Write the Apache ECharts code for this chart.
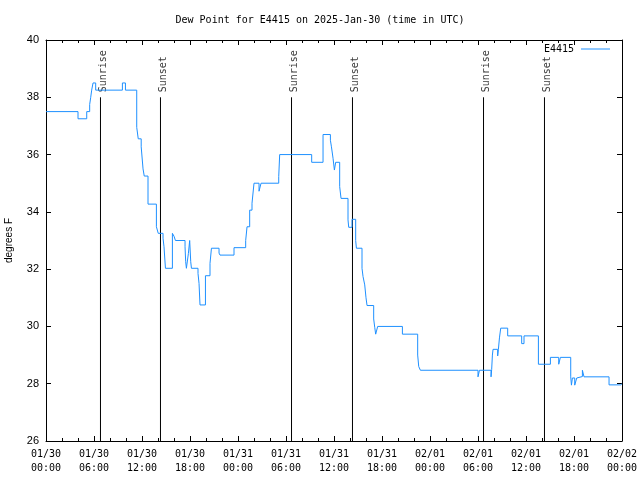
<!DOCTYPE html>
<html>
<head>
<meta charset="utf-8">
<script src="https://cdn.jsdelivr.net/npm/echarts@6/dist/echarts.min.js"></script>
<style>html,body{margin:0;padding:0;background:#fff}#c{width:640px;height:480px}</style>
</head>
<body>
<div id="c"></div>
<script>
// Hours since 2025-01-30 00:00 UTC at which the dew point changes to the given value
var hours = [0, 4.0, 5.09, 5.46, 5.59, 5.71, 5.88, 6.21, 9.55, 9.93, 11.34, 11.53, 11.9, 12.13, 12.28, 12.75, 13.8, 14.03, 14.63, 14.75, 14.93, 15.8, 16.0, 16.18, 17.38, 17.46, 17.55, 17.8, 17.96, 18.09, 18.18, 19.0, 19.13, 19.25, 19.93, 20.5, 20.68, 21.63, 21.75, 23.5, 24.96, 25.13, 25.46, 25.75, 26.0, 26.63, 26.88, 29.09, 29.21, 33.21, 34.63, 35.55, 35.68, 35.88, 36.05, 36.21, 36.71, 36.88, 37.75, 37.84, 38.25, 38.71, 38.8, 39.5, 39.63, 39.84, 40.0, 40.13, 40.96, 41.09, 41.21, 41.46, 44.55, 46.46, 46.59, 46.8, 54.0, 54.18, 55.63, 55.71, 55.8, 55.88, 56.46, 56.55, 56.68, 56.84, 57.71, 59.46, 59.75, 61.55, 63.05, 64.09, 64.3, 65.59, 65.68, 65.8, 66.09, 66.34, 66.59, 67.05, 67.25, 70.38, 71.84, 72.0];
var dewPoint = [37.5, 37.25, 37.5, 37.75, 38.0, 38.25, 38.5, 38.25, 38.5, 38.25, 36.95, 36.55, 36.27, 35.5, 35.25, 34.27, 33.48, 33.25, 33.08, 32.78, 32.03, 33.25, 33.15, 33.0, 32.78, 32.26, 32.03, 32.55, 33.0, 32.26, 32.03, 31.85, 31.5, 30.75, 31.77, 32.2, 32.73, 32.56, 32.49, 32.75, 33.0, 33.48, 34.06, 34.3, 35.0, 34.72, 35.0, 35.23, 36.0, 35.73, 36.7, 36.5, 36.27, 35.87, 35.46, 35.73, 34.88, 34.47, 33.72, 33.46, 33.74, 33.0, 32.73, 32.03, 31.74, 31.45, 31.0, 30.73, 30.26, 29.97, 29.73, 30.0, 29.73, 29.0, 28.6, 28.47, 28.24, 28.47, 28.24, 28.5, 29.0, 29.2, 28.97, 29.2, 29.6, 29.94, 29.67, 29.4, 29.67, 28.68, 28.92, 28.68, 28.92, 28.24, 27.95, 28.2, 27.95, 28.2, 28.25, 28.47, 28.24, 27.96, 28.0, 28.0];

// Sunrise / sunset markers (hours since 2025-01-30 00:00 UTC)
var eventHours = [6.81, 14.31, 30.69, 38.31, 54.69, 62.31];
var eventNames = ['Sunrise', 'Sunset', 'Sunrise', 'Sunset', 'Sunrise', 'Sunset'];
var eventTop = 38.0;

// Axis tick labels
var xTickLabels = ['01/30\n00:00', '01/30\n06:00', '01/30\n12:00', '01/30\n18:00', '01/31\n00:00', '01/31\n06:00', '01/31\n12:00', '01/31\n18:00', '02/01\n00:00', '02/01\n06:00', '02/01\n12:00', '02/01\n18:00', '02/02\n00:00'];
var yMin = 26, yMax = 40, yStep = 2;
var xMin = 0, xMax = 72, xStep = 6;

var mono = 'DejaVu Sans Mono';
var sans = 'Liberation Sans';

var lineData = hours.map(function (h, i) { return [h, dewPoint[i]]; });

var series = [{
  name: 'E4415',
  type: 'line',
  step: 'end',
  symbol: 'none',
  showSymbol: false,
  data: lineData,
  lineStyle: { color: '#1e90ff', width: 1 },
  itemStyle: { color: '#1e90ff' },
  z: 3
}];
eventHours.forEach(function (h) {
  series.push({
    type: 'line',
    symbol: 'none',
    silent: true,
    data: [[h, yMin], [h, eventTop]],
    lineStyle: { color: '#000', width: 1 },
    z: 2
  });
});
series.push({
  type: 'scatter',
  symbolSize: 0,
  silent: true,
  data: eventHours.map(function (h) { return [h, eventTop]; }),
  label: {
    show: true,
    position: 'top',
    distance: 5,
    rotate: 90,
    align: 'left',
    verticalAlign: 'middle',
    offset: [0, 3],
    fontFamily: mono,
    fontSize: 10,
    color: '#000',
    formatter: function (p) { return eventNames[p.dataIndex]; }
  }
});

var baseX = {
  type: 'value', min: xMin, max: xMax, interval: xStep,
  axisLine: { show: true, onZero: false, lineStyle: { color: '#000', width: 1 } },
  axisTick: { show: true, inside: true, length: 5, lineStyle: { color: '#000' } },
  minorTick: { show: true, splitNumber: 3, length: 3, lineStyle: { color: '#000' } },
  splitLine: { show: false }
};
var baseY = {
  type: 'value', min: yMin, max: yMax, interval: yStep,
  axisLine: { show: true, onZero: false, lineStyle: { color: '#000', width: 1 } },
  axisTick: { show: true, inside: true, length: 5, lineStyle: { color: '#000' } },
  splitLine: { show: false }
};

var chart = echarts.init(document.getElementById('c'), null, { renderer: 'canvas' });
chart.setOption({
  animation: false,
  backgroundColor: '#fff',
  title: {
    text: 'Dew Point for E4415 on 2025-Jan-30 (time in UTC)',
    left: 'center', top: 10,
    textStyle: { fontFamily: mono, fontSize: 10, fontWeight: 'normal', color: '#000' }
  },
  legend: {
    data: [{ name: 'E4415', icon: 'path://M0,0H29V1H0Z' }],
    right: 30, top: 44, padding: 0,
    align: 'right',
    itemWidth: 29, itemHeight: 1,
    textStyle: { fontFamily: mono, fontSize: 10, color: '#000', padding: [0, 2, 0, 0] }
  },
  grid: { left: 46, right: 18, top: 40, bottom: 39, containLabel: false, outerBoundsMode: 'none' },
  xAxis: [
    Object.assign({}, baseX, {
      position: 'bottom',
      axisLabel: {
        show: true, margin: 6, lineHeight: 14,
        fontFamily: mono, fontSize: 10, color: '#000',
        formatter: function (v) { return xTickLabels[Math.round((v - xMin) / xStep)]; }
      }
    }),
    Object.assign({}, baseX, { position: 'top', axisLabel: { show: false } })
  ],
  yAxis: [
    Object.assign({}, baseY, {
      position: 'left',
      name: 'degrees F', nameLocation: 'middle', nameGap: 32, nameRotate: 90,
      nameTextStyle: { fontFamily: sans, fontSize: 10, color: '#000' },
      axisLabel: { show: true, margin: 7, fontFamily: sans, fontSize: 11, color: '#000' }
    }),
    Object.assign({}, baseY, { position: 'right', axisLabel: { show: false } })
  ],
  series: series
});
</script>
</body>
</html>
